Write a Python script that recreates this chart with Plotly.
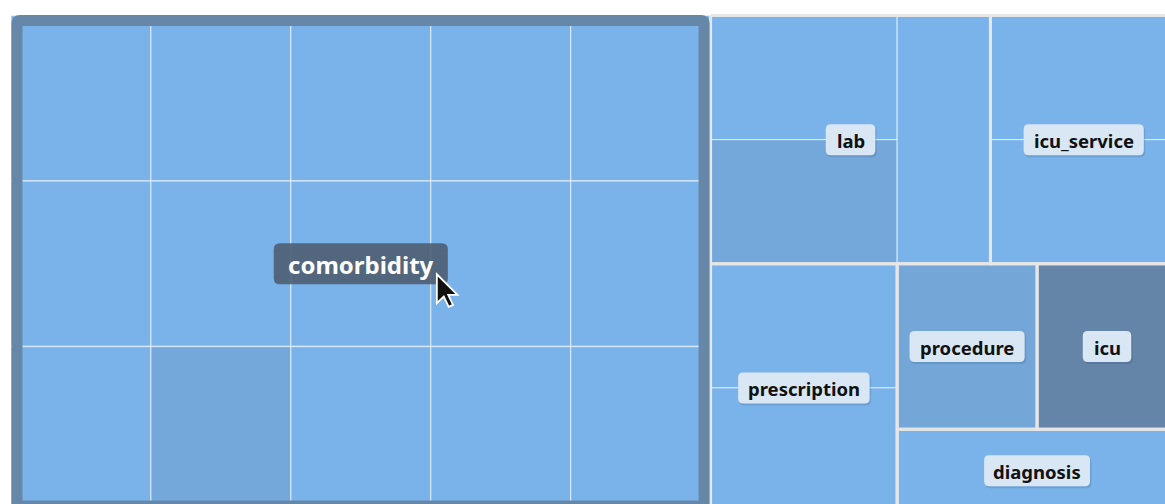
import plotly.graph_objects as go

# ---------------- data ----------------
categories = ["comorbidity", "lab", "icu_service", "prescription", "procedure", "icu", "diagnosis"]
leaf_counts = [15, 3, 2, 2, 1, 1, 1]

# per-leaf shading level (0 = base colour, 1 = darkest)
comorbidity_shade = [0, 0, 0, 0, 0, 0.25, 0, 0, 0, 0, 0, 0, 0, 0, 0]
lab_shade = [0, 0.25, 0]
icu_service_shade = [0, 0]
prescription_shade = [0, 0]
procedure_shade = [0.27]
icu_shade = [1.0]
diagnosis_shade = [0]
hovered_category = "comorbidity"

shades = {
    "comorbidity": comorbidity_shade,
    "lab": lab_shade,
    "icu_service": icu_service_shade,
    "prescription": prescription_shade,
    "procedure": procedure_shade,
    "icu": icu_shade,
    "diagnosis": diagnosis_shade,
}
counts = dict(zip(categories, leaf_counts))

# ---------------- layout settings ----------------
W, H = 1165, 504
BOX = (11, 15.5, 1177, 512)          # treemap extent (partly outside the view)
GROUPING = ["comorbidity", [["lab", "icu_service"], ["prescription", [["procedure", "icu"], "diagnosis"]]]]
BASE = (122, 179, 234)
DARK = (100, 133, 168)
GAP_COLOR = "#e6e6e6"
HOVER_BORDER = "#6687a8"


def node_value(n):
    if isinstance(n, str):
        return counts[n]
    return sum(node_value(c) for c in n)


cat_rects = {}


def place(n, x0, y0, x1, y1, depth):
    if isinstance(n, str):
        cat_rects[n] = (x0, y0, x1, y1)
        return
    a, b = n
    va, vb = node_value(a), node_value(b)
    t = va / (va + vb)
    if depth % 2 == 0:
        xm = x0 + (x1 - x0) * t
        place(a, x0, y0, xm, y1, depth + 1)
        place(b, xm, y0, x1, y1, depth + 1)
    else:
        ym = y0 + (y1 - y0) * t
        place(a, x0, y0, x1, ym, depth + 1)
        place(b, x0, ym, x1, y1, depth + 1)


place(GROUPING, *BOX, 0)


def squarify(values, x0, y0, x1, y1, ratio=1.0):
    rects = []
    n = len(values)
    i0 = i1 = 0
    value = float(sum(values))
    while i0 < n:
        dx, dy = x1 - x0, y1 - y0
        sumv = values[i1]
        i1 += 1
        minv = maxv = sumv
        alpha = max(dy / dx, dx / dy) / (value * ratio)
        beta = sumv * sumv * alpha
        minr = max(maxv / beta, beta / minv)
        while i1 < n:
            nv = values[i1]
            s = sumv + nv
            mn, mx = min(minv, nv), max(maxv, nv)
            beta = s * s * alpha
            nr = max(mx / beta, beta / mn)
            if nr > minr:
                break
            sumv, minv, maxv, minr = s, mn, mx, nr
            i1 += 1
        row = values[i0:i1]
        if dx < dy:
            yb = y0 + dy * sumv / value
            cx = x0
            for v in row:
                w = dx * v / sumv
                rects.append((cx, y0, cx + w, yb))
                cx += w
            y0 = yb
        else:
            xb = x0 + dx * sumv / value
            cy = y0
            for v in row:
                h = dy * v / sumv
                rects.append((x0, cy, xb, cy + h))
                cy += h
            x0 = xb
        value -= sumv
        i0 = i1
    return rects


def mix(t):
    c = [round(BASE[i] + (DARK[i] - BASE[i]) * t) for i in range(3)]
    return f"rgb({c[0]},{c[1]},{c[2]})"


def rect_xy(r):
    x0, y0, x1, y1 = r
    return [x0, x1, x1, x0, x0], [y0, y0, y1, y1, y0]


def rounded_rect(x0, y0, x1, y1, r):
    return (f"M{x0+r},{y0} L{x1-r},{y0} Q{x1},{y0} {x1},{y0+r} L{x1},{y1-r} Q{x1},{y1} {x1-r},{y1} "
            f"L{x0+r},{y1} Q{x0},{y1} {x0},{y1-r} L{x0},{y0+r} Q{x0},{y0} {x0+r},{y0} Z")


fig = go.Figure()

# leaf cells
for cat in categories:
    leaves = squarify([1] * counts[cat], *cat_rects[cat])
    for r, s in zip(leaves, shades[cat]):
        xs, ys = rect_xy(r)
        fig.add_trace(go.Scatter(
            x=xs, y=ys, mode="lines", fill="toself", fillcolor=mix(s),
            line=dict(color="rgba(255,255,255,0.5)", width=1.3),
            hoverinfo="skip", showlegend=False))

# group outlines (gaps); the hovered group gets its own border instead
for cat in categories:
    if cat == hovered_category:
        continue
    xs, ys = rect_xy(cat_rects[cat])
    fig.add_trace(go.Scatter(
        x=xs, y=ys, mode="lines", line=dict(color=GAP_COLOR, width=3),
        hoverinfo="skip", showlegend=False))

# ---------------- labels ----------------
CHAR_W = {"a": .586, "b": .618, "c": .511, "d": .618, "e": .579, "g": .546, "i": .284, "l": .284,
          "m": .945, "n": .640, "o": .606, "p": .618, "r": .440, "s": .485, "t": .413, "u": .640,
          "v": .554, "y": .554, "_": .440, "h": .640, "k": .592, "f": .380, "q": .618}


def text_width(s, size):
    return sum(CHAR_W.get(ch, .58) for ch in s) * size


shapes = []
annotations = []
cursor_tip = None
for cat in categories:
    x0, y0, x1, y1 = cat_rects[cat]
    cx, cy = (x0 + x1) / 2, (y0 + y1) / 2
    hov = cat == hovered_category
    size = 24 if hov else 18.5
    pad = 16.5 if hov else 11
    hh = 20.5 if hov else 15.5
    tw = text_width(cat, size)
    px0, px1 = cx - tw / 2 - pad, cx + tw / 2 + pad
    py0, py1 = cy - hh, cy + hh
    if hov:
        shapes.append(dict(type="path", xref="x", yref="y", layer="above",
                           path=rounded_rect(px0, py0, px1, py1, 6),
                           fillcolor="rgba(78,94,114,0.9)", line=dict(width=0)))
        cursor_tip = (px1 - 11, py1 - 10)
    else:
        shapes.append(dict(type="path", xref="x", yref="y", layer="above",
                           path=rounded_rect(px0 + 1, py0 + 2, px1 + 1.5, py1 + 2, 5),
                           fillcolor="rgba(30,60,100,0.16)", line=dict(width=0)))
        shapes.append(dict(type="path", xref="x", yref="y", layer="above",
                           path=rounded_rect(px0, py0, px1, py1, 5),
                           fillcolor="rgb(217,230,243)", line=dict(width=0)))
    annotations.append(dict(
        x=cx, y=cy + (1 if hov else 0.5), xref="x", yref="y", text=cat, showarrow=False,
        xanchor="center", yanchor="middle",
        font=dict(family="Noto Sans", size=size, color="#ffffff" if hov else "#111111", weight="bold")))

# hovered border
hx0, hy0, hx1, hy1 = cat_rects[hovered_category]
ins = 6
shapes.insert(0, dict(type="path", xref="x", yref="y", layer="above",
                      path=rounded_rect(hx0 + ins, hy0 + ins - 1, hx1 - ins - 0.5, hy1 - ins, 3),
                      fillcolor="rgba(0,0,0,0)", line=dict(color=HOVER_BORDER, width=11)))

# mouse cursor
if cursor_tip:
    tx, ty = cursor_tip
    sc = 1.65
    pts = [(0, 0), (0, 17.5), (4.2, 13.5), (7.2, 19.8), (9.8, 18.6), (6.9, 12.5), (12.5, 12.5)]
    p = "M" + " L".join(f"{tx + a * sc},{ty + b * sc}" for a, b in pts) + " Z"
    shapes.append(dict(type="path", xref="x", yref="y", layer="above", path=p,
                       fillcolor="#111111", line=dict(color="#ffffff", width=1.8)))

fig.update_layout(
    width=W, height=H, autosize=False,
    margin=dict(l=0, r=0, t=0, b=0, pad=0),
    paper_bgcolor="white", plot_bgcolor="white",
    xaxis=dict(range=[0, W], visible=False, fixedrange=True),
    yaxis=dict(range=[H, 0], visible=False, fixedrange=True),
    shapes=shapes, annotations=annotations, showlegend=False,
)

fig.write_html("out.html", config={"displayModeBar": False},
               post_script="document.body.style.margin='0px';document.body.style.overflow='hidden';")
